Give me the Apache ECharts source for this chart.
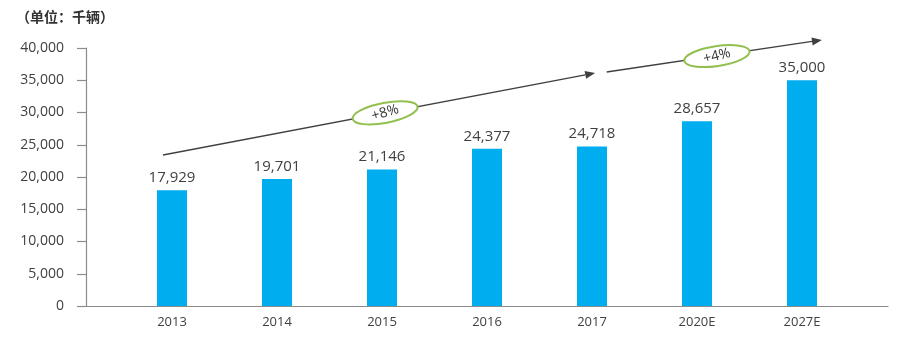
<!DOCTYPE html>
<html>
<head>
<meta charset="utf-8">
<script src="https://cdn.jsdelivr.net/npm/echarts@6/dist/echarts.min.js"></script>
<style>
  html, body { margin: 0; padding: 0; background: #ffffff; }
  #chart { width: 902px; height: 345px; }
</style>
</head>
<body>
<div id="chart"></div>
<script>
// Vehicle sales, thousands of units
const years = ['2013', '2014', '2015', '2016', '2017', '2020E', '2027E'];
const sales = [17929, 19701, 21146, 24377, 24718, 28657, 35000];
const yTicks = [0, 5000, 10000, 15000, 20000, 25000, 30000, 35000, 40000];

// Growth trend arrows (category index, value) and their rate badges
const trendStarts = [[-0.086, 23411], [4.14, 36279]];
const trendEnds = [[4.03, 36124], [6.19, 41240]];
const rateLabels = ['+8%', '+4%'];
const ratePositions = [[2.03, 29950], [5.19, 38750]];

const fmt = v => v.toLocaleString('en-US');
const FONT = '"Open Sans", "Noto Sans", sans-serif';

const chart = echarts.init(document.getElementById('chart'), null, { renderer: 'canvas' });

chart.setOption({
  animation: false,
  backgroundColor: '#ffffff',
  title: {
    text: '（单位：千辆）',
    left: 11,
    top: 5,
    textStyle: { fontFamily: '"Noto Sans CJK SC", sans-serif', fontWeight: 'bold', fontSize: 14, color: '#333333' }
  },
  grid: { left: 86, right: 14, top: 48, bottom: 39, containLabel: false },
  xAxis: {
    type: 'value',
    min: -0.819,
    max: 6.819,
    splitLine: { show: false },
    axisLine: { show: true, onZero: false, lineStyle: { color: '#8c8c8c', width: 1.2 } },
    axisTick: { show: false },
    axisLabel: {
      customValues: years.map((_, i) => i),
      formatter: v => years[Math.round(v)] || '',
      margin: 10,
      color: '#404040',
      fontSize: 13,
      fontFamily: FONT
    }
  },
  yAxis: {
    type: 'value',
    min: 0,
    max: 40000,
    interval: 5000,
    splitLine: { show: false },
    axisLine: { show: true, onZero: false, lineStyle: { color: '#8c8c8c', width: 1.2 } },
    axisTick: { show: true, length: 9, customValues: yTicks, lineStyle: { color: '#8c8c8c', width: 1.2 } },
    axisLabel: {
      customValues: yTicks,
      formatter: v => fmt(v),
      margin: 22,
      color: '#404040',
      fontSize: 14,
      fontFamily: FONT
    }
  },
  series: [{
    type: 'bar',
    data: sales.map((v, i) => [i, v]),
    barWidth: 30,
    itemStyle: { color: '#00ADEF' },
    label: {
      show: true,
      position: 'top',
      distance: 5,
      formatter: p => fmt(p.value[1]),
      color: '#404040',
      fontSize: 15,
      fontFamily: FONT
    }
  }]
});

// Trend arrows and growth-rate badges, placed in data coordinates
function px(p) { return chart.convertToPixel({ gridIndex: 0 }, p); }

const graphics = [];
trendStarts.forEach((s, k) => {
  const a = px(s), b = px(trendEnds[k]);
  const dx = b[0] - a[0], dy = b[1] - a[1];
  const len = Math.hypot(dx, dy);
  const ux = dx / len, uy = dy / len;
  const head = 10, half = 4;
  const base = [b[0] - ux * head, b[1] - uy * head];
  graphics.push({
    type: 'line',
    shape: { x1: a[0], y1: a[1], x2: base[0], y2: base[1] },
    style: { stroke: '#404040', lineWidth: 1.3 },
    z: 10
  });
  graphics.push({
    type: 'polygon',
    shape: { points: [b, [base[0] - uy * half, base[1] + ux * half], [base[0] + uy * half, base[1] - ux * half]] },
    style: { fill: '#404040' },
    z: 10
  });
  const c = px(ratePositions[k]);
  const ang = Math.atan2(-dy, dx);
  graphics.push({
    type: 'ellipse',
    x: c[0], y: c[1],
    rotation: ang,
    shape: { cx: 0, cy: 0, rx: 33, ry: 10 },
    style: { fill: '#ffffff', stroke: '#92C050', lineWidth: 2 },
    z: 11
  });
  graphics.push({
    type: 'text',
    x: c[0], y: c[1],
    rotation: ang + 0.1,
    style: {
      text: rateLabels[k],
      align: 'center',
      verticalAlign: 'middle',
      fill: '#333333',
      fontSize: 14,
      fontFamily: FONT
    },
    z: 12
  });
});

chart.setOption({ graphic: graphics });
</script>
</body>
</html>
